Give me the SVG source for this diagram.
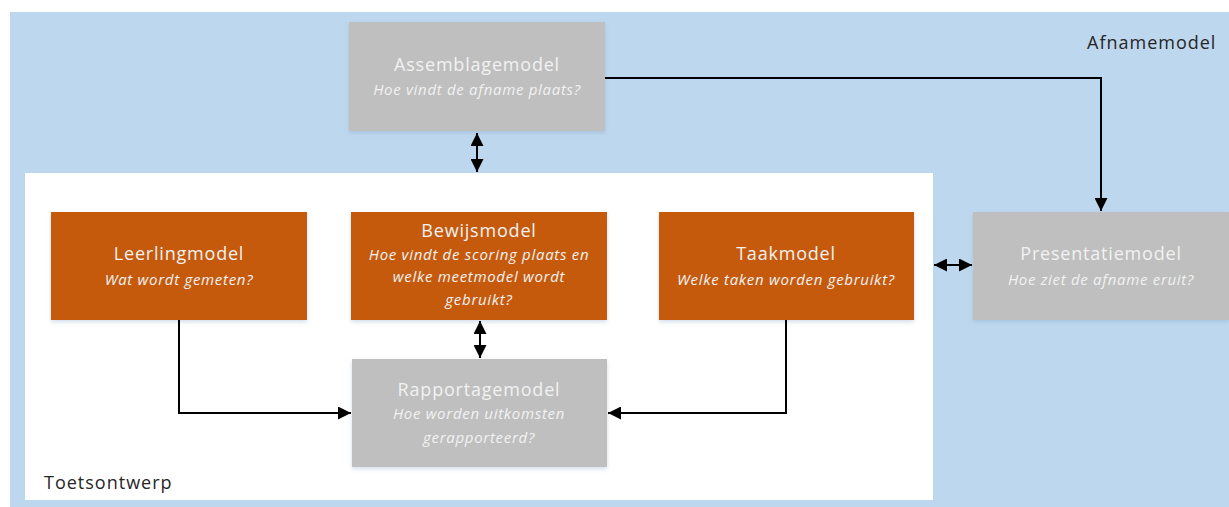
<svg xmlns="http://www.w3.org/2000/svg" width="1229" height="507" viewBox="0 0 1229 507">
<defs>
<marker id="ah" viewBox="0 0 10 10" refX="10" refY="5" markerWidth="13" markerHeight="13" markerUnits="userSpaceOnUse" orient="auto-start-reverse">
<path d="M0,0 L10,5 L0,10 Z" fill="#000"/>
</marker>
<filter id="sh" x="-5%" y="-5%" width="110%" height="115%">
<feDropShadow dx="0" dy="2" stdDeviation="2" flood-color="#7fa3c4" flood-opacity="0.35"/>
</filter>
</defs>
<style>
.t{font-family:"Open Sans","Liberation Sans",sans-serif;font-size:18px;letter-spacing:0.8px;text-anchor:middle;fill:#f2f2f2}
.s{font-family:"Open Sans","Liberation Sans",sans-serif;font-size:15px;letter-spacing:0.7px;font-style:italic;text-anchor:middle;fill:#f2f2f2}
.lbl{font-family:"Open Sans","Liberation Sans",sans-serif;font-size:18px;letter-spacing:1px;fill:#262626}
.o{fill:#c55a11}
.g{fill:#bfbfbf}
.c{fill:none;stroke:#000;stroke-width:2}
</style>
<rect x="0" y="0" width="1229" height="507" fill="#ffffff"/>
<g id="afnamemodel">
<rect x="10" y="12" width="1219" height="495" fill="#bdd7ee"/>
<text class="lbl" x="1087" y="49">Afnamemodel</text>
</g>
<g id="toetsontwerp">
<rect x="25" y="173" width="908" height="327" fill="#ffffff"/>
<text class="lbl" x="44" y="489">Toetsontwerp</text>
</g>
<g id="assemblagemodel">
<rect class="g" x="349" y="22" width="256" height="109" filter="url(#sh)"/>
<text class="t" x="477" y="71">Assemblagemodel</text>
<text class="s" x="477" y="95">Hoe vindt de afname plaats?</text>
</g>
<g id="leerlingmodel">
<rect class="o" x="51" y="212" width="256" height="108" filter="url(#sh)"/>
<text class="t" x="179" y="260">Leerlingmodel</text>
<text class="s" x="179" y="285">Wat wordt gemeten?</text>
</g>
<g id="bewijsmodel">
<rect class="o" x="351" y="212" width="256" height="108" filter="url(#sh)"/>
<text class="t" x="479" y="237">Bewijsmodel</text>
<text class="s" x="479" y="260">Hoe vindt de scoring plaats en</text>
<text class="s" x="479" y="282">welke meetmodel wordt</text>
<text class="s" x="479" y="305">gebruikt?</text>
</g>
<g id="taakmodel">
<rect class="o" x="659" y="212" width="255" height="108" filter="url(#sh)"/>
<text class="t" x="786" y="260">Taakmodel</text>
<text class="s" x="786" y="285">Welke taken worden gebruikt?</text>
</g>
<g id="presentatiemodel">
<rect class="g" x="973" y="212" width="256" height="108" filter="url(#sh)"/>
<text class="t" x="1101" y="260">Presentatiemodel</text>
<text class="s" x="1101" y="285">Hoe ziet de afname eruit?</text>
</g>
<g id="rapportagemodel">
<rect class="g" x="352" y="359" width="255" height="108" filter="url(#sh)"/>
<text class="t" x="479" y="396">Rapportagemodel</text>
<text class="s" x="479" y="419">Hoe worden uitkomsten</text>
<text class="s" x="479" y="443">gerapporteerd?</text>
</g>
<g id="connectors">
<path class="c" d="M477,133 L477,172" marker-start="url(#ah)" marker-end="url(#ah)"/>
<path class="c" d="M480,321 L480,358" marker-start="url(#ah)" marker-end="url(#ah)"/>
<path class="c" d="M934,265 L972,265" marker-start="url(#ah)" marker-end="url(#ah)"/>
<path class="c" d="M605,78 L1101,78 L1101,211" marker-end="url(#ah)"/>
<path class="c" d="M179,320 L179,413 L351,413" marker-end="url(#ah)"/>
<path class="c" d="M786,320 L786,413 L608,413" marker-end="url(#ah)"/>
</g>
</svg>
